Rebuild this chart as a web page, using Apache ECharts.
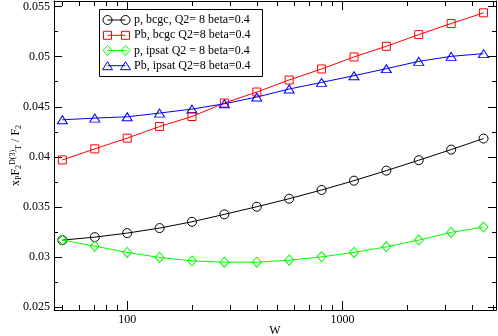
<!DOCTYPE html>
<html><head><meta charset="utf-8">
<script src="https://cdn.jsdelivr.net/npm/echarts@6/dist/echarts.min.js"></script>
<style>html,body{margin:0;padding:0;background:#fff}#c{width:498px;height:336px}</style>
</head><body><div id="c"></div>
<script>
const W = [50, 70.71, 100, 141.4, 200, 282.8, 400, 565.7, 800, 1131.4, 1600, 2262.7, 3200, 4525.5];
const pBcgc = [0.0317, 0.0320, 0.0324, 0.0329, 0.03353, 0.03427, 0.03503, 0.03583, 0.0367, 0.03763, 0.03863, 0.03967, 0.04073, 0.04183];
const pbBcgc = [0.0397, 0.0408, 0.04187, 0.04303, 0.04403, 0.04537, 0.04647, 0.04767, 0.04877, 0.04997, 0.05103, 0.0522, 0.0533, 0.05437];
const pIpsat = [0.0317, 0.0311, 0.03047, 0.02997, 0.02963, 0.0295, 0.0295, 0.0297, 0.03003, 0.03047, 0.03103, 0.0317, 0.03247, 0.0330];
const pbIpsat = [0.0437, 0.04387, 0.0440, 0.04437, 0.04477, 0.0453, 0.04597, 0.04677, 0.04743, 0.0481, 0.0488, 0.04953, 0.05003, 0.0503];
const seriesNames = ['p, bcgc, Q2= 8 beta=0.4', 'Pb, bcgc Q2=8 beta=0.4', 'p, ipsat Q2 = 8 beta=0.4', 'Pb, ipsat Q2=8 beta=0.4'];
const xMajor = [100, 1000];
const xMinor = [50, 60, 70, 80, 90, 200, 300, 400, 500, 600, 700, 800, 900, 2000, 3000, 4000, 5000];
const yMajor = [0.025, 0.03, 0.035, 0.04, 0.045, 0.05, 0.055];
const yMinor = [0.0275, 0.0325, 0.0375, 0.0425, 0.0475, 0.0525];

const FONT = 'Liberation Serif';
const XMIN = 45.7, XMAX = 5170, YMIN = 0.02473, YMAX = 0.05555;
const colors = ['#000000', '#ff0000', '#00ff00', '#0000ff'];
const symbols = ['circle', 'rect', 'diamond', 'triangle'];
const sizes = [9, 8, [9, 10], [10, 8]];
const allData = [pBcgc, pbBcgc, pIpsat, pbIpsat];

function xAx(pos, vals, len, main) {
  return {
    type: 'log', min: XMIN, max: XMAX, position: pos, gridIndex: 0,
    axisLine: { show: main, lineStyle: { color: '#000', width: 1 } },
    axisTick: { show: true, inside: true, length: len, customValues: vals, lineStyle: { color: '#000', width: 1 } },
    axisLabel: { show: main && pos === 'bottom', customValues: xMajor, margin: 4, color: '#000', fontFamily: FONT, fontSize: 12,
      formatter: v => String(Math.round(v)) },
    splitLine: { show: false }, minorTick: { show: false },
    name: (main && pos === 'bottom') ? 'W' : '', nameLocation: 'middle', nameGap: 15, nameMoveOverlap: false,
    nameTextStyle: { color: '#000', fontFamily: FONT, fontSize: 12 }
  };
}
function yAx(pos, vals, len, main) {
  const o = {
    type: 'value', min: YMIN, max: YMAX, position: pos, gridIndex: 0,
    axisLine: { show: main, lineStyle: { color: '#000', width: 1 } },
    axisTick: { show: true, inside: true, length: len, customValues: vals, lineStyle: { color: '#000', width: 1 } },
    axisLabel: { show: main && pos === 'left', customValues: yMajor, margin: 4, color: '#000', fontFamily: FONT, fontSize: 12,
      formatter: v => String(+v.toFixed(4)) },
    splitLine: { show: false }
  };
  if (main && pos === 'left') {
    o.name = '{n|x}{s|P}{n|F}{s|2}{u|D(3)}{s|T}{n| / F}{s|2}';
    o.nameLocation = 'middle';
    o.nameRotate = 90;
    o.nameGap = 31;
    o.nameMoveOverlap = false;
    o.nameTextStyle = {
      color: '#000', fontFamily: FONT, fontSize: 12,
      rich: {
        n: { fontFamily: FONT, fontSize: 12, color: '#000', lineHeight: 14, verticalAlign: 'middle' },
        s: { fontFamily: FONT, fontSize: 8, color: '#000', lineHeight: 8, verticalAlign: 'bottom' },
        u: { fontFamily: FONT, fontSize: 8, color: '#000', lineHeight: 8, verticalAlign: 'top' }
      }
    };
  }
  return o;
}

const series = allData.map((arr, i) => ({
  name: seriesNames[i], type: 'line', xAxisIndex: 0, yAxisIndex: 0,
  data: arr.map((v, k) => [W[k], v]),
  symbol: symbols[i], symbolSize: sizes[i], showSymbol: true,
  itemStyle: { color: 'transparent', borderColor: colors[i], borderWidth: 1 },
  lineStyle: { color: colors[i], width: 1 },
  emphasis: { disabled: true }, animation: false, z: 2 + (i === 2 ? 1 : 0)
}));

// legend drawn as graphic
const gEls = [];
const LX = 99, LY = 9, LW = 163, LH = 67;
gEls.push({ type: 'rect', shape: { x: LX + 0.5, y: LY + 0.5, width: LW, height: LH }, style: { fill: '#fff', stroke: '#000', lineWidth: 1 }, z: 100 });
const rowsY = [20, 35.3, 50.5, 65.7];
const sx1 = 107.5, sx2 = 125.5;
function sym(kind, cx, cy, color) {
  const st = { fill: 'none', stroke: color, lineWidth: 1 };
  if (kind === 'circle') return { type: 'circle', shape: { cx: cx, cy: cy, r: 4.5 }, style: st, z: 102 };
  if (kind === 'rect') return { type: 'rect', shape: { x: cx - 4, y: cy - 4, width: 8, height: 8 }, style: st, z: 102 };
  if (kind === 'diamond') return { type: 'polygon', shape: { points: [[cx, cy - 5], [cx + 4.5, cy], [cx, cy + 5], [cx - 4.5, cy]] }, style: st, z: 102 };
  return { type: 'polygon', shape: { points: [[cx, cy - 4], [cx + 5, cy + 4], [cx - 5, cy + 4]] }, style: st, z: 102 };
}
rowsY.forEach((y, i) => {
  gEls.push({ type: 'line', shape: { x1: sx1, y1: y, x2: sx2, y2: y }, style: { stroke: colors[i], lineWidth: 1 }, z: 101 });
  gEls.push(sym(symbols[i], sx1, y, colors[i]));
  gEls.push(sym(symbols[i], sx2, y, colors[i]));
  gEls.push({ type: 'text', x: 134, y: y, style: { text: seriesNames[i], fill: '#000', font: '12px "Liberation Serif"', textVerticalAlign: 'middle', verticalAlign: 'middle' }, z: 102 });
});

const chart = echarts.init(document.getElementById('c'), null, { renderer: 'canvas' });
chart.setOption({
  animation: false,
  backgroundColor: '#fff',
  grid: { left: 54, top: 1, width: 442, height: 309, containLabel: false, outerBoundsMode: 'none' },
  xAxis: [xAx('bottom', xMajor, 9, true), xAx('bottom', xMinor, 5, false), xAx('top', xMajor, 9, true), xAx('top', xMinor, 5, false)],
  yAxis: [yAx('left', yMajor, 8, true), yAx('left', yMinor, 4, false), yAx('right', yMajor, 8, true), yAx('right', yMinor, 4, false)],
  series: series,
  graphic: gEls
});
</script></body></html>
